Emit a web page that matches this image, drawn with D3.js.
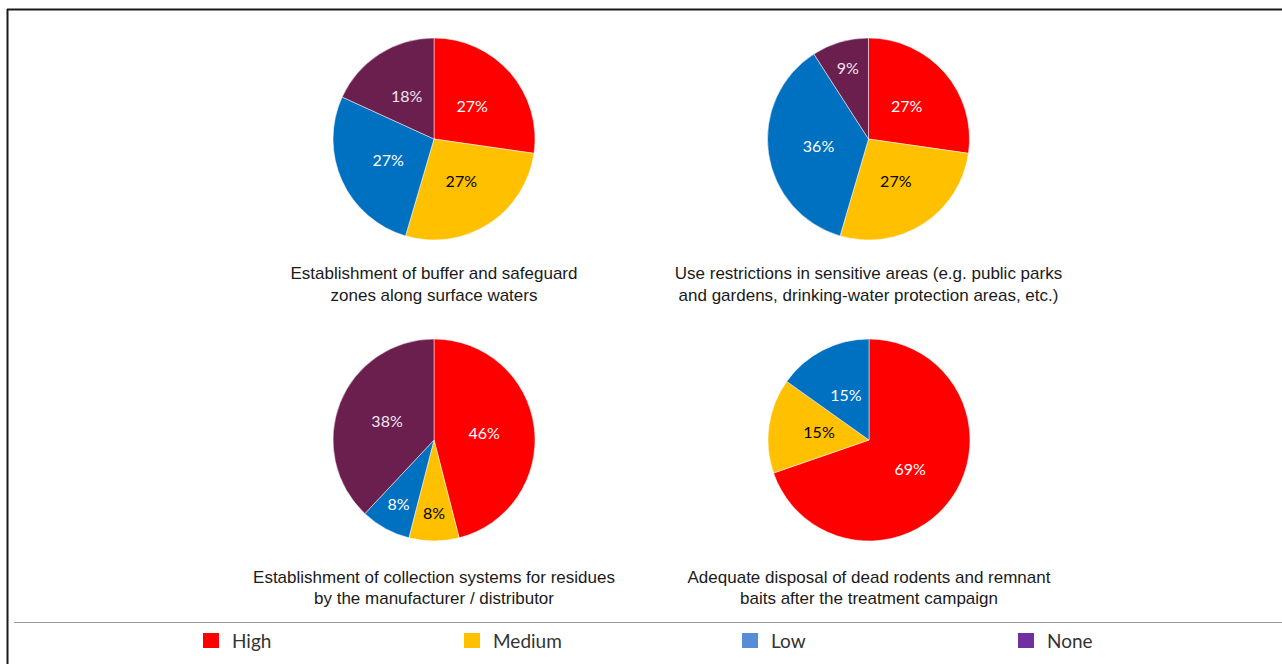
<!DOCTYPE html>
<html><head><meta charset="utf-8">
<script src="https://cdn.jsdelivr.net/npm/d3@7/dist/d3.min.js"></script>
<style>html,body{margin:0;padding:0;background:#fff;}svg{display:block;}</style>
</head><body>
<svg id="c" width="1282" height="664"></svg>
<script>
const categories = ["High", "Medium", "Low", "None"];
const pieColors = ["#FF0000", "#FFC000", "#0070C0", "#6B1F4E"];
const legendColors = ["#FF0000", "#FFC000", "#558ED5", "#7030A0"];
const labelColors = ["#FFFFFF", "#000000", "#FFFFFF", "#F2E6EE"];
const titles = [
  ["Establishment of buffer and safeguard", "zones along surface waters"],
  ["Use restrictions in sensitive areas (e.g. public parks", "and gardens, drinking-water protection areas, etc.)"],
  ["Establishment of collection systems for residues", "by the manufacturer / distributor"],
  ["Adequate disposal of dead rodents and remnant", "baits after the treatment campaign"]
];
const buffer = [27, 27, 27, 18];
const useRestrictions = [27, 27, 36, 9];
const collection = [46, 8, 8, 38];
const disposal = [69, 15, 15, 0];
const seriesValues = [buffer, useRestrictions, collection, disposal];

const svg = d3.select("#c");
// frame
svg.append("line").attr("x1",7).attr("x2",1282).attr("y1",9.5).attr("y2",9.5).attr("stroke","#1a1a1a").attr("stroke-width",2);
svg.append("line").attr("x1",7.5).attr("x2",7.5).attr("y1",9).attr("y2",664).attr("stroke","#1a1a1a").attr("stroke-width",2);
svg.append("line").attr("x1",14).attr("x2",1282).attr("y1",622.5).attr("y2",622.5).attr("stroke","#9a9a9a").attr("stroke-width",1.2);

const centers = [[434,139],[868.5,139],[434,440],[869,440]];
const titleY = [[273,295],[273,295],[577,598],[577,598]];
const R = 101;
const pie = d3.pie().sort(null).value(d => d.v);
const arc = d3.arc().innerRadius(0).outerRadius(R);
const labelArc = d3.arc().innerRadius(R*0.5).outerRadius(R*0.5);
const outerLabelArc = d3.arc().innerRadius(R*0.73).outerRadius(R*0.73);

seriesValues.forEach((vals, i) => {
  const data = categories.map((c, k) => ({c, v: vals[k], k}));
  const g = svg.append("g").attr("transform", `translate(${centers[i][0]},${centers[i][1]})`);
  const arcs = pie(data).filter(d => d.data.v > 0);
  g.selectAll("path").data(arcs).join("path")
    .attr("d", arc).attr("fill", d => pieColors[d.data.k])
    .attr("stroke", "#fff").attr("stroke-width", 0.5);
  g.selectAll("text").data(arcs).join("text")
    .attr("transform", d => `translate(${(d.data.v < 10 ? outerLabelArc : labelArc).centroid(d)})`)
    .attr("text-anchor", "middle").attr("dy", "0.35em")
    .attr("font-family", "Lato, 'Open Sans', sans-serif").attr("font-size", 16)
    .attr("fill", d => labelColors[d.data.k])
    .text(d => d.data.v + "%");
  titles[i].forEach((t, j) => {
    svg.append("text").attr("x", centers[i][0]).attr("y", titleY[i][j])
      .attr("text-anchor", "middle").attr("dy", "0.35em")
      .attr("font-family", "'Liberation Sans', Arial, sans-serif").attr("font-size", 17)
      .attr("fill", "#1a1a1a").text(t);
  });
});

// legend
const legX = d3.scaleOrdinal().domain(categories).range([203, 464, 742, 1018]);
const lg = svg.append("g");
categories.forEach((c, k) => {
  const x = legX(c);
  lg.append("rect").attr("x", x).attr("y", 633).attr("width", 16).attr("height", 15).attr("fill", legendColors[k]);
  lg.append("text").attr("x", x + 29).attr("y", 641).attr("dy", "0.35em")
    .attr("font-family", "Lato, 'Open Sans', sans-serif").attr("font-size", 19)
    .attr("fill", "#333").text(c);
});
</script>
</body></html>
